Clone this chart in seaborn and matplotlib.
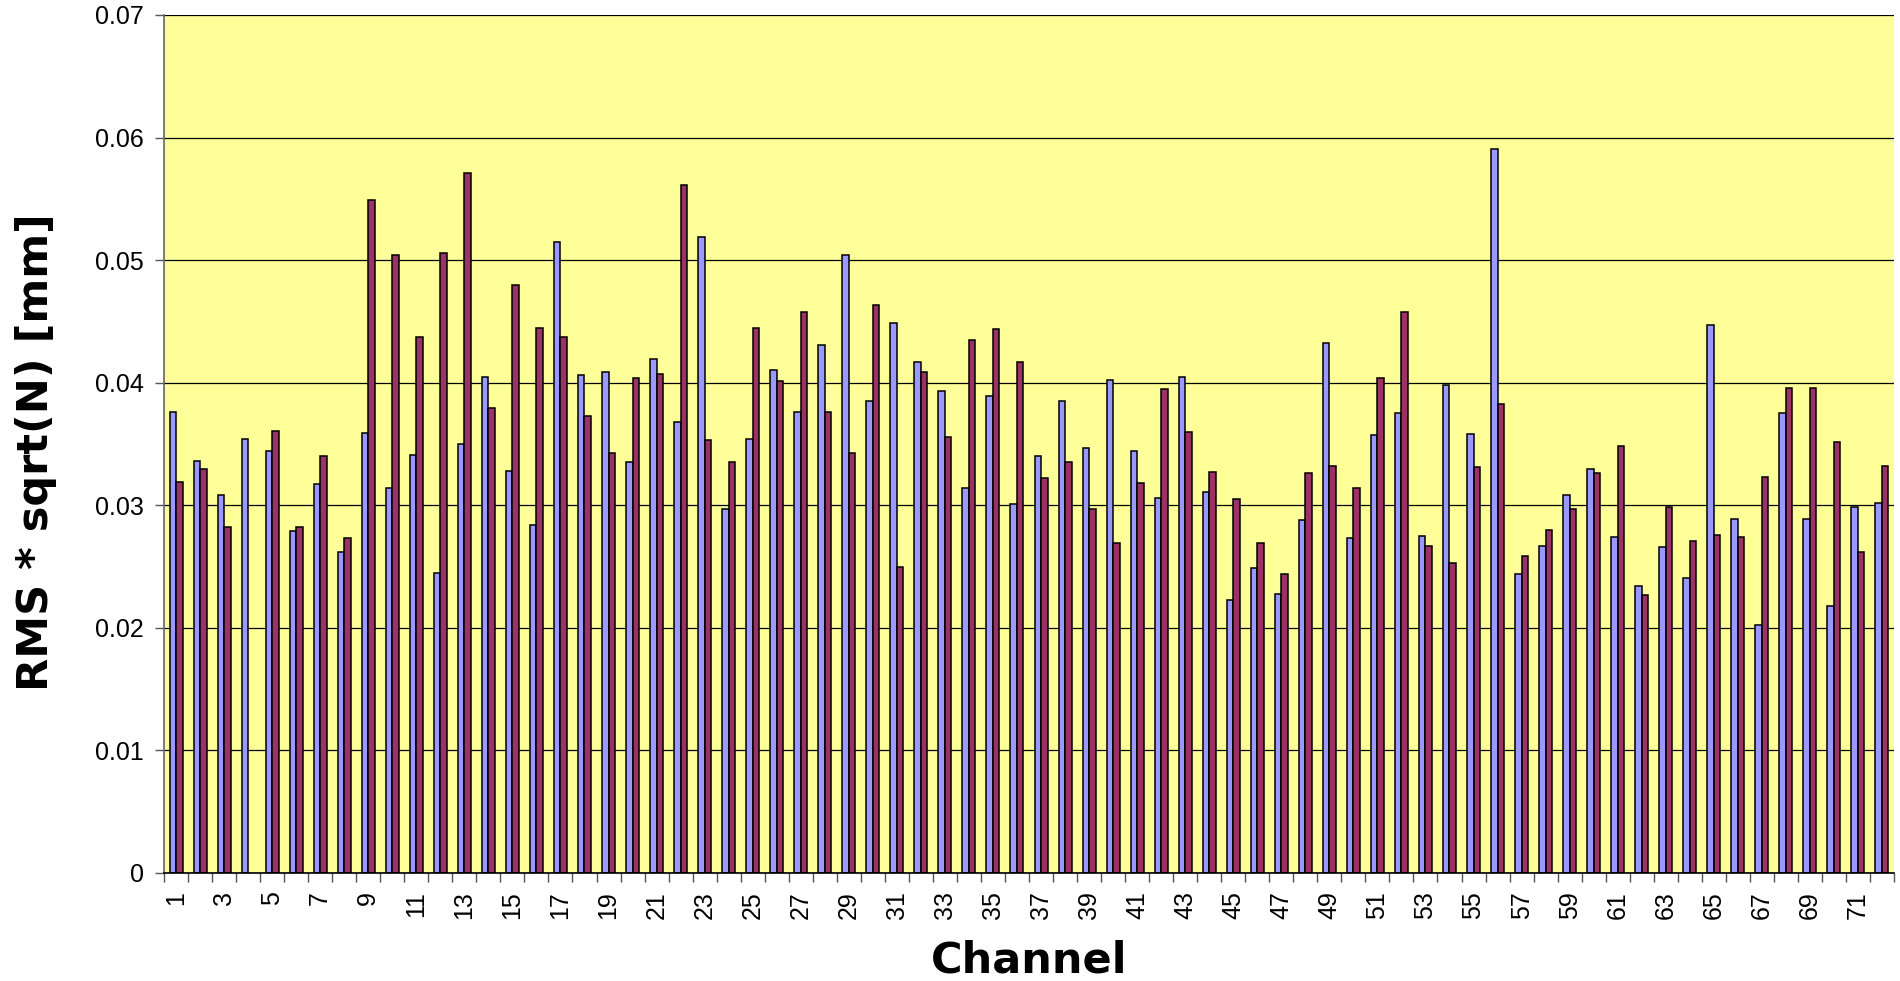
import numpy as np
import pandas as pd
import matplotlib
matplotlib.use("Agg")
import matplotlib.pyplot as plt
import seaborn as sns

# ---------------- data ----------------
channels = list(range(1, 73))

series_1 = [0.0376, 0.0336, 0.0308, 0.0354, 0.0344, 0.0279, 0.0317, 0.0262, 0.0359, 0.0314,
            0.0341, 0.0245, 0.0350, 0.0405, 0.0328, 0.0284, 0.0515, 0.0406, 0.0409, 0.0335,
            0.0419, 0.0368, 0.0519, 0.0297, 0.0354, 0.0410, 0.0376, 0.0431, 0.0504, 0.0385,
            0.0449, 0.0417, 0.0393, 0.0314, 0.0389, 0.0301, 0.0340, 0.0385, 0.0347, 0.0402,
            0.0344, 0.0306, 0.0405, 0.0311, 0.0223, 0.0249, 0.0228, 0.0288, 0.0432, 0.0273,
            0.0357, 0.0375, 0.0275, 0.0398, 0.0358, 0.0591, 0.0244, 0.0267, 0.0308, 0.0330,
            0.0274, 0.0234, 0.0266, 0.0241, 0.0447, 0.0289, 0.0202, 0.0375, 0.0289, 0.0218,
            0.0299, 0.0302]

series_2 = [0.0319, 0.0330, 0.0282, np.nan, 0.0361, 0.0282, 0.0340, 0.0273, 0.0549, 0.0504,
            0.0437, 0.0506, 0.0571, 0.0379, 0.0480, 0.0445, 0.0437, 0.0373, 0.0343, 0.0404,
            0.0407, 0.0561, 0.0353, 0.0335, 0.0445, 0.0401, 0.0458, 0.0376, 0.0343, 0.0463,
            0.0250, 0.0409, 0.0356, 0.0435, 0.0444, 0.0417, 0.0322, 0.0335, 0.0297, 0.0269,
            0.0318, 0.0395, 0.0360, 0.0327, 0.0305, 0.0269, 0.0244, 0.0326, 0.0332, 0.0314,
            0.0404, 0.0458, 0.0267, 0.0253, 0.0331, 0.0383, 0.0259, 0.0280, 0.0297, 0.0326,
            0.0348, 0.0227, 0.0299, 0.0271, 0.0276, 0.0274, 0.0323, 0.0396, 0.0396, 0.0352,
            0.0262, 0.0332]

series_names = ["Series 1", "Series 2"]
y_ticks = [0.0, 0.01, 0.02, 0.03, 0.04, 0.05, 0.06, 0.07]
y_tick_labels = ["0", "0.01", "0.02", "0.03", "0.04", "0.05", "0.06", "0.07"]
x_label = "Channel"
y_label = "RMS * sqrt(N) [mm]"

# ---------------- style ----------------
sns.set_style("ticks")
plt.rcParams["font.family"] = ["Liberation Sans", "DejaVu Sans"]
plt.rcParams["text.color"] = "black"
plt.rcParams["axes.labelcolor"] = "black"

df = pd.DataFrame({
    "channel": [str(c) for c in channels] * 2,
    "value": series_1 + series_2,
    "series": [series_names[0]] * len(channels) + [series_names[1]] * len(channels),
})

W, H = 1900, 981
fig = plt.figure(figsize=(W / 100, H / 100), dpi=100)
ax = fig.add_axes([164 / W, 1 - 873 / H, 1730 / W, 858 / H])
ax.set_facecolor("#FFFF99")

sns.barplot(data=df, x="channel", y="value", hue="series",
            order=[str(c) for c in channels], hue_order=series_names,
            palette=["#9999FF", "#993366"], width=0.54, gap=0,
            edgecolor="black", linewidth=1.1, saturation=1,
            legend=False, errorbar=None, ax=ax)

ax.set_xlim(-0.5, len(channels) - 0.5)
ax.set_ylim(0, 0.07)

# y axis
ax.set_yticks(y_ticks)
ax.set_yticklabels(y_tick_labels)
ax.yaxis.grid(True, color="black", linewidth=0.9)
ax.set_axisbelow(True)
ax.tick_params(axis="y", direction="out", length=6.5, width=1, color="#555555",
               pad=8, labelsize=18, labelcolor="black")

# x axis: ticks at category boundaries, labels on every other category
ax.set_xticks(np.arange(-0.5, len(channels), 1.0))
ax.set_xticklabels([])
ax.set_xticks(np.arange(0, len(channels), 2), minor=True)
ax.set_xticklabels([str(c) for c in channels[::2]], minor=True)
ax.tick_params(axis="x", which="major", direction="out", length=6.5, width=1, color="#555555")
ax.tick_params(axis="x", which="minor", length=0, pad=13, labelsize=18,
               labelrotation=90, labelcolor="black")

for s in ["top", "right"]:
    ax.spines[s].set_visible(False)
ax.spines["left"].set_color("#666666")
ax.spines["left"].set_linewidth(1.2)
ax.spines["bottom"].set_color("black")
ax.spines["bottom"].set_linewidth(1.2)

label_font = dict(fontsize=31, fontweight="bold", family=["DejaVu Sans"], color="black")
ax.set_xlabel(x_label, **label_font)
ax.set_ylabel(y_label, **label_font)
ax.xaxis.set_label_coords(0.5, -0.078)
ax.yaxis.set_label_coords(-0.062, 0.49)

fig.savefig("out.png", dpi=100)
